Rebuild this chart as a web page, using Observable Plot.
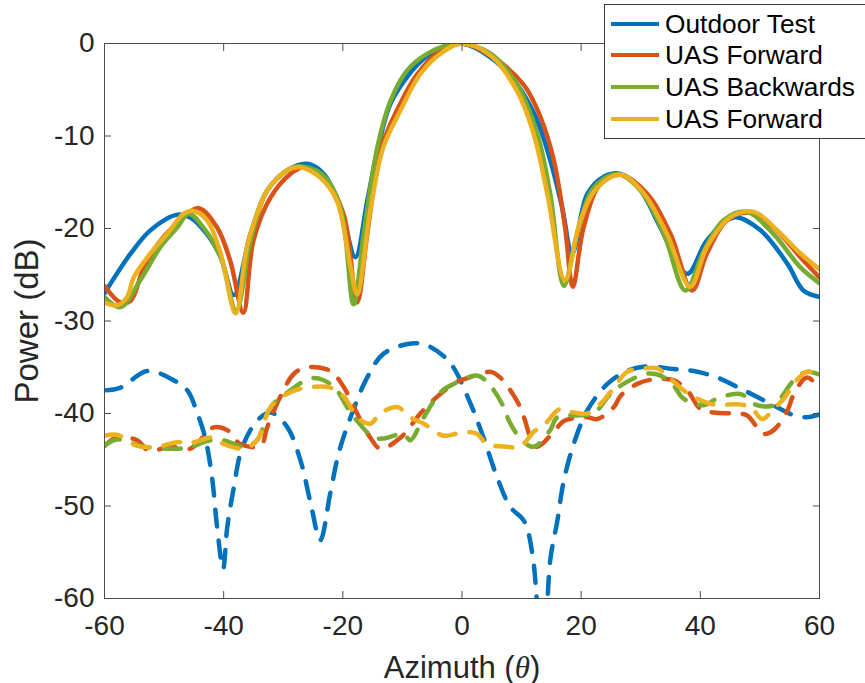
<!DOCTYPE html>
<html>
<head>
<meta charset="utf-8">
<script src="https://cdn.jsdelivr.net/npm/d3@7"></script>
<script src="https://cdn.jsdelivr.net/npm/@observablehq/plot@0.6"></script>
<style>
  body { margin: 0; background: #fff; }
  #wrap { position: relative; width: 865px; height: 683px; overflow: hidden; font-family: "Liberation Sans", Arial, Helvetica, sans-serif; }
  #legend { position: absolute; left: 604px; top: 4px; width: 290px; height: 135px; border: 1px solid #3a3a3a; background: #fff; box-sizing: border-box; }
  .sw { position: absolute; left: 6px; width: 48px; height: 4px; }
  .lab { position: absolute; left: 60px; font-size: 26.3px; line-height: 1; color: #000; white-space: nowrap; }
</style>
</head>
<body>
<div id="wrap"><div id="chart"></div><div id="legend"></div></div>
<script>
// ---- axis ticks & legend ----
const xTicks = [-60, -40, -20, 0, 20, 40, 60];
const yTicks = [0, -10, -20, -30, -40, -50, -60];
const seriesNames = ["Outdoor Test", "UAS Forward", "UAS Backwards", "UAS Forward"];
const seriesColors = ["#0072BD", "#D95319", "#77AC30", "#EDB120"];

// ---- solid curves (co-pol) ----
const outdoorSolidX = [-60, -55.6, -52.3, -47.8, -45.6, -42.8, -40.5, -38.3, -35.5, -32.7, -29.3, -26, -23.2, -20.4, -17.9, -15.9, -14.2, -12, -9.2, -6.5, -3.1, 0, 4.8, 9.2, 12.6, 14.8, 16.8, 18.5, 21, 23.8, 26.6, 30, 33.3, 37.8, 41.1, 45.6, 50.1, 54.6, 57.3, 60];
const outdoorSolidY = [-27, -22.7, -20.2, -18.5, -18.8, -20.6, -23.1, -27.2, -20.6, -15.9, -13.7, -13.0, -14.1, -17.7, -23.1, -17, -11.6, -6.5, -3.6, -1.7, -0.4, 0, -1.5, -4.4, -8.3, -12.6, -17.7, -22.7, -16.3, -14.4, -14.1, -15.9, -19.9, -24.9, -21.3, -18.8, -20.2, -23.8, -26.7, -27.4];

const fwd1SolidX = [-60, -57.3, -55.6, -53.4, -50.6, -47.2, -44.2, -41.1, -38.9, -36.7, -35, -32.1, -28.8, -26.6, -23.2, -19.9, -17.6, -15.9, -13.7, -10.9, -7.5, -3.6, 0, 4.8, 10.4, 13.2, 15.4, 17.3, 18.6, 20.4, 23.2, 26.6, 31, 35, 38.6, 41.1, 44.5, 48.4, 52.3, 56.8, 60];
const fwd1SolidY = [-26.2, -28, -27.8, -24.2, -21.3, -19.1, -17.8, -19.9, -23.5, -29.1, -21.3, -16.6, -14.1, -13.4, -14.5, -18.4, -28, -20.6, -11.6, -7.2, -3.3, -0.8, 0, -1.3, -4.5, -8, -12.6, -19.9, -26.3, -19.9, -15.2, -14.2, -16.2, -20.6, -26.7, -22.7, -19.1, -18.3, -19.9, -23.1, -25.3];

const backSolidX = [-60, -57.3, -54, -50.6, -47.8, -45.9, -43.4, -40.5, -37.9, -35.5, -32.7, -28.8, -26.8, -23.2, -20.4, -18.2, -16.5, -14.2, -12, -9.2, -5.8, -1.8, 0, 4.8, 9.2, 12.6, 14.8, 17.1, 19.3, 22.1, 26, 30, 33.9, 37.5, 40.6, 43.9, 47.8, 52.3, 56.8, 60];
const backSolidY = [-27.4, -28.5, -25.6, -22, -19.9, -18.4, -19.9, -23.1, -28.9, -21.3, -15.9, -13.5, -13.3, -14.3, -17.7, -28.2, -20.6, -11.2, -6.2, -2.9, -1.1, -0.05, 0, -1.1, -4.4, -9.7, -16.2, -26.2, -20.6, -15.6, -14.1, -15.9, -20.6, -26.7, -22.4, -19.1, -18.2, -20.6, -24.2, -25.9];

const fwd2SolidX = [-60, -57.9, -56.2, -55.1, -52.3, -49.5, -46.7, -45.1, -42.8, -40.5, -38, -36.1, -34.4, -32.7, -29.3, -27.1, -23.8, -21, -18.7, -17.6, -15.4, -13.2, -10.3, -7, -3.6, 0, 4.8, 9.2, 12, 14.3, 17.3, 19.9, 22.7, 26.6, 30.5, 34.4, 38.3, 41.1, 45, 49, 52.9, 56.8, 60];
const fwd2SolidY = [-28, -28.3, -27.4, -25.3, -22.7, -20.6, -18.4, -18.1, -19.1, -22.7, -29.2, -22, -18.4, -15.9, -13.7, -13.4, -14.5, -17, -24.2, -27.1, -18.1, -11.2, -7.2, -3.3, -1.1, 0, -1.3, -5.1, -9.7, -16.2, -25.6, -19.1, -15.6, -14.2, -16.2, -20.6, -26.3, -22, -18.8, -18.2, -20.2, -22.7, -24.4];

// ---- dashed curves (cross-pol) ----
const outdoorDashX = [-60, -57.3, -52.8, -48.4, -46.1, -44.4, -43, -41.9, -41.1, -40.1, -39.4, -38.3, -36.9, -34.4, -32.1, -29.3, -27.1, -25.4, -23.8, -22.1, -20.7, -18.7, -15.9, -13.1, -8.1, -5.3, -1.9, 1.4, 3.6, 5.9, 8.1, 10.4, 11.8, 13.6, 14.8, 16, 17.1, 18.8, 21, 24.4, 27.7, 31, 35.5, 38.9, 42.8, 46.7, 49.5, 54, 55.7, 57.9, 60];
const outdoorDashY = [-37.5, -37.2, -35.4, -36.4, -37.5, -40, -42.9, -47.2, -52.3, -56.8, -52.3, -48, -43.7, -40.8, -39.9, -41.5, -45.1, -49.7, -53.7, -48.6, -44.3, -40.4, -36.1, -33.5, -32.4, -32.8, -34.6, -38.9, -42.6, -46.9, -50.1, -51.6, -55.1, -68, -55.9, -51.6, -47.2, -43.2, -39.7, -36.8, -35.4, -34.9, -35.2, -35.4, -36.1, -37.3, -38.2, -39.7, -40.2, -40.4, -40.1];

const fwd1DashX = [-60, -57.9, -54.5, -52.6, -48.9, -45.6, -41.7, -39.4, -37.2, -33.8, -32.7, -30.5, -28.2, -26, -22.1, -19.8, -17.6, -15.4, -13.7, -10.3, -7, -4.2, -0.9, 0.8, 4.8, 6.4, 9.2, 10.4, 11.5, 12.6, 16, 17.1, 21, 22.7, 25.5, 26.6, 29.4, 32.2, 35.5, 37.8, 40, 42.3, 45.6, 47.8, 50.6, 52.3, 54.6, 55.7, 57.9, 60];
const fwd1DashY = [-43.5, -42.6, -42.9, -44, -43.6, -43.8, -41.5, -41.8, -43.3, -43.5, -41.5, -38.2, -35.7, -35, -35.4, -37.2, -40, -42.6, -43.8, -42.6, -40, -38.2, -36.6, -36.2, -35.5, -36.1, -38.6, -40.4, -42.6, -43.6, -41.5, -40.8, -40.4, -40.6, -39.3, -38.1, -36.8, -36.3, -36.4, -37.5, -39.5, -39.9, -40, -40.2, -42.2, -41.8, -39.7, -37.9, -36.1, -37.3];

const backDashX = [-60, -57.9, -53.4, -47.8, -45.6, -42.2, -40, -36.6, -34.4, -32.1, -28.8, -25.4, -23.2, -21, -19.3, -17.6, -14.8, -13.1, -9.8, -8.7, -6.4, -3.6, -1.4, 2.5, 4.5, 7, 7.9, 9.8, 12, 14.8, 16, 19.9, 22.1, 24.9, 27.1, 31, 33.3, 35.5, 37.2, 40.6, 42.8, 46.7, 49.5, 52.3, 53.4, 55.7, 57.9, 60];
const backDashY = [-43.5, -42.8, -43.6, -43.8, -43.6, -42.9, -42.9, -43.6, -42.9, -39.3, -37.5, -36.2, -36.4, -37.5, -39.3, -40.8, -42.6, -42.7, -42.2, -42.9, -40.4, -37.7, -36.8, -35.9, -36.8, -39.3, -40.8, -42.7, -43.6, -41.8, -40.4, -40.2, -40, -37.9, -36.8, -35.7, -35.9, -37, -38.4, -39.1, -38.4, -37.9, -39.1, -39.1, -38.4, -36.4, -35.5, -35.8];

const fwd2DashX = [-60, -57.9, -54.5, -51.2, -47.8, -45.6, -41.7, -40, -36.6, -34.4, -32.1, -28.8, -26, -22.1, -19.8, -17.6, -15.4, -13.7, -10.9, -8.7, -6.4, -3.1, 0.3, 2.5, 4.2, 7.6, 9.8, 12, 13.7, 16.5, 18.8, 21, 23.2, 25.5, 27.7, 29.9, 32.7, 34.4, 37.2, 39.5, 42.8, 45.6, 48.4, 50.4, 52.3, 54, 56.3, 57.9, 60];
const fwd2DashY = [-42.4, -42.3, -43.5, -43.6, -43.1, -43.2, -42.6, -43.3, -43.8, -42.9, -39.3, -37.7, -37.2, -37.2, -38.2, -40.4, -41.1, -40, -39.3, -40.4, -41.1, -42.4, -42, -42.2, -43.3, -43.6, -43.6, -42, -41.3, -39.5, -39.9, -40, -39, -37.2, -35.5, -35.2, -35.1, -35.9, -37.5, -38.4, -39.1, -39, -39.3, -40.6, -39.5, -38.4, -36.3, -35.5, -35.7];

// ---- build tables ----
const rows = (xs, ys) => xs.map((x, i) => ({x, y: ys[i]}));
const solids = [rows(outdoorSolidX, outdoorSolidY), rows(fwd1SolidX, fwd1SolidY), rows(backSolidX, backSolidY), rows(fwd2SolidX, fwd2SolidY)];
const dashes = [rows(outdoorDashX, outdoorDashY), rows(fwd1DashX, fwd1DashY), rows(backDashX, backDashY), rows(fwd2DashX, fwd2DashY)];

const font = '"Liberation Sans", Arial, Helvetica, sans-serif';
const fmt = d => String(d);

const lineMarks = [];
solids.forEach((data, i) => lineMarks.push(Plot.line(data, {x: "x", y: "y", stroke: seriesColors[i], strokeWidth: 4.5, curve: "catmull-rom", clip: true})));
dashes.forEach((data, i) => lineMarks.push(Plot.line(data, {x: "x", y: "y", stroke: seriesColors[i], strokeWidth: 4.5, strokeDasharray: "17,14", curve: "catmull-rom", clip: true})));

const chart = Plot.plot({
  width: 865,
  height: 683,
  marginLeft: 104,
  marginRight: 46,
  marginTop: 43,
  marginBottom: 85,
  x: {domain: [-60, 60]},
  y: {domain: [-60, 0]},
  style: {fontFamily: font, fontSize: "28px", color: "#262626", background: "#fff"},
  marks: [
    ...lineMarks,
    Plot.frame({stroke: "#4d4d4d"}),
    Plot.axisX({ticks: xTicks, tickSize: -7, tickPadding: 24, tickFormat: fmt, label: null, stroke: "#4d4d4d", fill: "#262626", fontSize: 28}),
    Plot.axisX({anchor: "top", ticks: xTicks, tickSize: -7, tickFormat: () => "", label: null, stroke: "#4d4d4d"}),
    Plot.axisY({ticks: yTicks, tickSize: -7, tickPadding: 17, tickFormat: fmt, label: null, stroke: "#4d4d4d", fill: "#262626", fontSize: 28}),
    Plot.axisY({anchor: "right", ticks: yTicks, tickSize: -7, tickFormat: () => "", label: null, stroke: "#4d4d4d"}),
    Plot.text(["Azimuth (θ)"], {text: d => d, frameAnchor: "bottom", dy: 79, lineAnchor: "bottom", textAnchor: "middle", fontSize: 31, fill: "#262626"}),
    Plot.text(["Power (dB)"], {text: d => d, frameAnchor: "left", dx: -67, rotate: -90, lineAnchor: "bottom", textAnchor: "middle", fontSize: 33, fill: "#262626"})
  ]
});
document.getElementById("chart").appendChild(chart);

// italic theta in the x label
d3.select(chart).selectAll("text").each(function() {
  if (this.textContent === "Azimuth (θ)") {
    const t = d3.select(this);
    t.text(null);
    t.append("tspan").text("Azimuth (");
    t.append("tspan").attr("font-family", '"Liberation Serif", "DejaVu Serif", serif').attr("font-style", "italic").text("θ");
    t.append("tspan").text(")");
  }
});

// legend (solid series)
const legend = document.getElementById("legend");
const rowCenters = [19, 50, 82, 114];
seriesNames.forEach((name, i) => {
  const sw = document.createElement("div");
  sw.className = "sw";
  sw.style.top = (rowCenters[i] - 2) + "px";
  sw.style.background = seriesColors[i];
  legend.appendChild(sw);
  const lab = document.createElement("div");
  lab.className = "lab";
  lab.style.top = (rowCenters[i] - 13) + "px";
  lab.textContent = name;
  legend.appendChild(lab);
});
</script>
</body>
</html>
